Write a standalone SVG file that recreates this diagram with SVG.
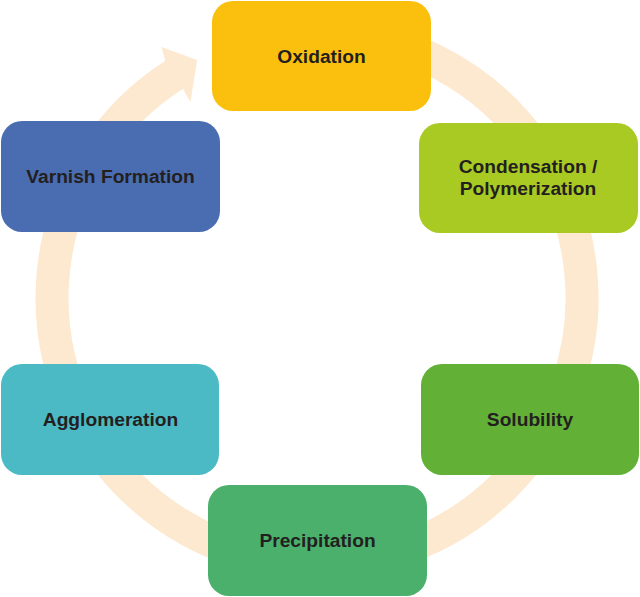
<svg xmlns="http://www.w3.org/2000/svg" width="640" height="597" viewBox="0 0 640 597">
  <style>
    .box text { font-family: "Liberation Sans", Arial, sans-serif; font-weight: bold; font-size: 19.2px; fill: #231F20; text-anchor: middle; }
    .ring { fill: none; stroke: #FDE8D0; stroke-width: 33; }
    .head { fill: #FDE8D0; }
  </style>
  <rect width="640" height="597" fill="#ffffff"/>
  <g id="connectors">
    <path class="ring" d="M 317 33 A 265 265 0 1 1 175 74.3"/>
    <polygon class="head" points="165.3,61.3 161.5,47 197,60 190.5,102 182.9,89.1 183.8,88.2"/>
  </g>
  <g id="oxidation" class="box">
    <rect x="212" y="1" width="219" height="110" rx="21" fill="#FBC00E"/>
    <text x="321.5" y="63">Oxidation</text>
  </g>
  <g id="condensation" class="box">
    <rect x="419" y="123" width="219" height="110" rx="21" fill="#A9C923"/>
    <text x="528" y="172.5">Condensation /</text>
    <text x="528" y="194.5">Polymerization</text>
  </g>
  <g id="solubility" class="box">
    <rect x="421" y="364" width="218" height="111" rx="21" fill="#62B136"/>
    <text x="530" y="426">Solubility</text>
  </g>
  <g id="precipitation" class="box">
    <rect x="208" y="485" width="219" height="111" rx="21" fill="#4BB06C"/>
    <text x="317.5" y="547">Precipitation</text>
  </g>
  <g id="agglomeration" class="box">
    <rect x="1" y="364" width="218" height="111" rx="21" fill="#4BBAC4"/>
    <text x="110.5" y="426">Agglomeration</text>
  </g>
  <g id="varnish" class="box">
    <rect x="1" y="121" width="219" height="111" rx="21" fill="#4A6DB2"/>
    <text x="110.5" y="183">Varnish Formation</text>
  </g>
</svg>
